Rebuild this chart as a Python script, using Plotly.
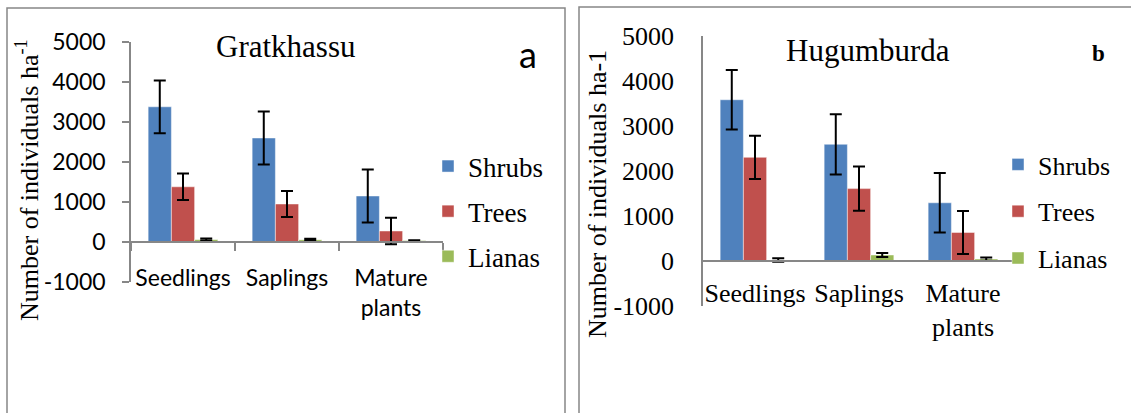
import plotly.graph_objects as go

# Regeneration stages shown on the category axis
stages = ["Seedlings", "Saplings", "Mature<br>plants"]

# Density axis ticks and their labels (plain hyphen for the negative value)
density_ticks = [-1000, 0, 1000, 2000, 3000, 4000, 5000]
density_labels = ["-1000", "0", "1000", "2000", "3000", "4000", "5000"]

# Gratkhassu: mean density (individuals per ha) and error
grat_shrubs = [3380, 2600, 1150]
grat_shrubs_err = [660, 660, 660]
grat_trees = [1380, 950, 275]
grat_trees_err = [330, 325, 330]
grat_lianas = [60, 55, 35]
grat_lianas_err = [30, 25, 10]

# Hugumburda: mean density (individuals per ha) and error
hug_shrubs = [3590, 2600, 1300]
hug_shrubs_err = [660, 670, 660]
hug_trees = [2310, 1615, 640]
hug_trees_err = [480, 490, 480]
hug_lianas = [30, 140, 50]
hug_lianas_err = [40, 45, 37]

life_forms = ["Shrubs", "Trees", "Lianas"]
colors = ["#4F81BD", "#C0504D", "#9BBB59"]

W, H = 1131, 413
GRAY = "#878787"
SERIF = "Liberation Serif"
SANS = "Lato"


def px(xp):
    return xp / W


def py(yp):
    return 1 - yp / H


fig = go.Figure()

grat_sets = [(grat_shrubs, grat_shrubs_err), (grat_trees, grat_trees_err), (grat_lianas, grat_lianas_err)]
hug_sets = [(hug_shrubs, hug_shrubs_err), (hug_trees, hug_trees_err), (hug_lianas, hug_lianas_err)]

for name, color, (vals, errs) in zip(life_forms, colors, grat_sets):
    fig.add_trace(go.Bar(
        x=stages, y=vals, name=name, xaxis="x", yaxis="y",
        marker=dict(color=color, line=dict(color="rgba(255,255,255,0.45)", width=1)),
        error_y=dict(type="data", array=errs, visible=True, color="black", thickness=2, width=6),
        legend="legend", legendgroup="g_" + name,
    ))

for name, color, (vals, errs) in zip(life_forms, colors, hug_sets):
    fig.add_trace(go.Bar(
        x=stages, y=vals, name=name, xaxis="x2", yaxis="y2",
        marker=dict(color=color, line=dict(color="rgba(255,255,255,0.45)", width=1)),
        error_y=dict(type="data", array=errs, visible=True, color="black", thickness=2, width=6),
        legend="legend2", legendgroup="h_" + name,
    ))

# Panel geometry (pixels)
L_x0, L_x1, L_top, L_bot = 131, 443, 42, 282
R_x0, R_x1, R_top, R_bot = 703, 1015, 36.3, 306.3

y_range = [-1000, 5000]


def zero_pos(top, bot):
    zero_px = bot - (bot - top) / 6.0
    return py(zero_px)


fig.update_layout(
    width=W, height=H,
    margin=dict(l=0, r=0, t=0, b=0, autoexpand=False),
    paper_bgcolor="white", plot_bgcolor="white",
    barmode="group", bargap=0.33, bargroupgap=0,
    xaxis=dict(
        domain=[px(L_x0), px(L_x1)], anchor="free", position=zero_pos(L_top, L_bot),
        showline=True, linecolor=GRAY, linewidth=1.5,
        ticks="outside", ticklen=8, tickwidth=1.5, tickcolor=GRAY, tickson="boundaries",
        tickangle=0, ticklabelstandoff=16, automargin=False,
        tickfont=dict(family=SANS, size=23, color="black"),
        showgrid=False, zeroline=False, fixedrange=True,
    ),
    yaxis=dict(
        domain=[py(L_bot), py(L_top)], anchor="x", range=y_range,
        tickmode="array", tickvals=density_ticks, ticktext=density_labels,
        showline=True, linecolor=GRAY, linewidth=1.5,
        ticks="outside", ticklen=7, tickwidth=1.5, tickcolor=GRAY,
        ticklabelstandoff=12, automargin=False,
        tickfont=dict(family=SANS, size=23, color="black"),
        showgrid=False, zeroline=False, fixedrange=True,
    ),
    xaxis2=dict(
        domain=[px(R_x0), px(R_x1)], anchor="free", position=zero_pos(R_top, R_bot),
        showline=True, linecolor=GRAY, linewidth=1.5,
        ticks="", tickangle=0, ticklabelstandoff=9, automargin=False,
        tickfont=dict(family=SERIF, size=26, color="black"),
        showgrid=False, zeroline=False, fixedrange=True,
    ),
    yaxis2=dict(
        domain=[py(R_bot), py(R_top)], anchor="x2", range=y_range,
        tickmode="array", tickvals=density_ticks, ticktext=density_labels,
        showline=True, linecolor=GRAY, linewidth=1.5,
        ticks="", ticklabelstandoff=22, automargin=False,
        tickfont=dict(family=SERIF, size=26, color="black"),
        showgrid=False, zeroline=False, fixedrange=True,
    ),
    legend=dict(
        x=px(428), xanchor="left", y=py(142), yanchor="top",
        font=dict(family=SERIF, size=27, color="black"),
        tracegroupgap=7, bgcolor="rgba(0,0,0,0)",
    ),
    legend2=dict(
        x=px(998), xanchor="left", y=py(141), yanchor="top",
        font=dict(family=SERIF, size=26, color="black"),
        tracegroupgap=10, bgcolor="rgba(0,0,0,0)",
    ),
    showlegend=True,
)

# Panel frames
fig.add_shape(type="rect", xref="paper", yref="paper",
              x0=px(7), x1=px(565), y0=-0.1, y1=py(8),
              line=dict(color=GRAY, width=1.5), fillcolor="rgba(0,0,0,0)", layer="below")
fig.add_shape(type="rect", xref="paper", yref="paper",
              x0=px(579), x1=1.1, y0=-0.1, y1=py(7),
              line=dict(color=GRAY, width=1.5), fillcolor="rgba(0,0,0,0)", layer="below")

# Titles, panel letters and axis titles
fig.add_annotation(text="Gratkhassu", xref="paper", yref="paper", x=px(285), y=py(46),
                   showarrow=False, xanchor="center", yanchor="middle",
                   font=dict(family=SERIF, size=31, color="black"))
fig.add_annotation(text="a", xref="paper", yref="paper", x=px(528), y=py(54),
                   showarrow=False, xanchor="center", yanchor="middle",
                   font=dict(family=SANS, size=36, color="black"))
fig.add_annotation(text="Hugumburda", xref="paper", yref="paper", x=px(868), y=py(50),
                   showarrow=False, xanchor="center", yanchor="middle",
                   font=dict(family=SERIF, size=31, color="black"))
fig.add_annotation(text="<b>b</b>", xref="paper", yref="paper", x=px(1098), y=py(53),
                   showarrow=False, xanchor="center", yanchor="middle",
                   font=dict(family=SERIF, size=23, color="black"))
fig.add_annotation(text="Number of individuals ha<sup>-1</sup>", xref="paper", yref="paper",
                   x=px(27), y=py(180), textangle=-90, showarrow=False,
                   xanchor="center", yanchor="middle",
                   font=dict(family=SERIF, size=26, color="black"))
fig.add_annotation(text="Number of individuals ha-1", xref="paper", yref="paper",
                   x=px(597), y=py(194), textangle=-90, showarrow=False,
                   xanchor="center", yanchor="middle",
                   font=dict(family=SERIF, size=26, color="black"))

fig.write_html("out.html")
